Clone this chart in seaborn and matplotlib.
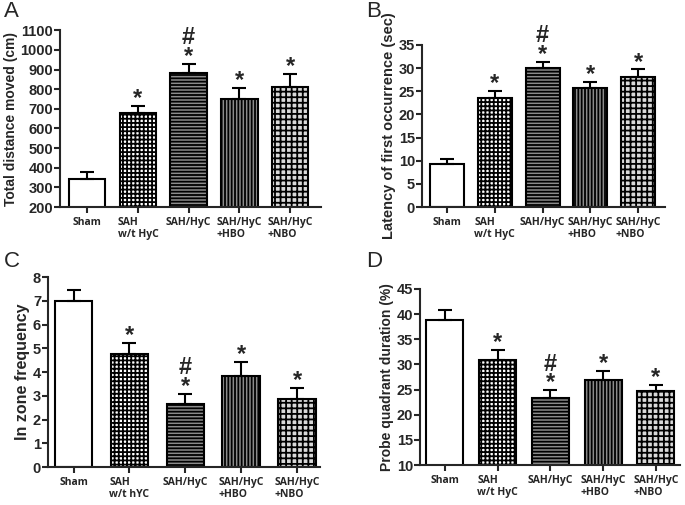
#!/usr/bin/env python3

import matplotlib
matplotlib.use("Agg")
import matplotlib.pyplot as plt
import pandas as pd
import seaborn as sns

# -----------------------------------------------------------------
# Data (mean and upper SEM end)
# -----------------------------------------------------------------
groups = ["Sham", "SAH\nw/t HyC", "SAH/HyC", "SAH/HyC\n+HBO", "SAH/HyC\n+NBO"]
groups_c = ["Sham", "SAH\nw/t hYC", "SAH/HyC", "SAH/HyC\n+HBO", "SAH/HyC\n+NBO"]

distance_mean = [345, 678, 885, 750, 812]
distance_top = [378, 715, 930, 805, 877]

latency_mean = [9.3, 23.6, 30.0, 25.6, 28.0]
latency_top = [10.3, 25.0, 31.4, 27.0, 29.7]

zone_mean = [7.0, 4.75, 2.68, 3.83, 2.85]
zone_top = [7.45, 5.25, 3.1, 4.45, 3.33]

probe_mean = [38.9, 30.8, 23.4, 26.9, 24.8]
probe_top = [40.8, 32.8, 24.9, 28.7, 25.9]

marks = ["", "*", "#\n*", "*", "*"]

hatches = ["", "++++", "-----", "|||||", "+++"]
faces = ["white", "white", "#8c8c8c", "#8c8c8c", "#d9d9d9"]

sns.set_style("ticks")
plt.rcParams["font.family"] = ["Liberation Sans", "DejaVu Sans"]
plt.rcParams["hatch.linewidth"] = 1.3

fig = plt.figure(figsize=(6.85, 5.05), dpi=100)


def panel(rect, letter, letter_xy, labels, means, tops, ylabel, ylim, yticks,
          xlim, width, ylabel_size=10):
    ax = fig.add_axes(rect)
    df = pd.DataFrame({"group": labels, "value": means})
    sns.barplot(data=df, x="group", y="value", ax=ax, errorbar=None,
                width=width, edgecolor="black", linewidth=1.5)
    for patch, h, fc in zip(ax.patches, hatches, faces):
        patch.set_facecolor(fc)
        patch.set_hatch(h)
    err = [t - m for t, m in zip(tops, means)]
    ax.errorbar(range(len(means)), means, yerr=[[0] * len(means), err],
                fmt="none", ecolor="black", elinewidth=1.5, capsize=5,
                capthick=1.5)
    for i, (t, m) in enumerate(zip(tops, marks)):
        if m:
            ax.annotate(m, (i, t), xytext=(0, -3), textcoords="offset points",
                        ha="center", va="bottom", fontsize=17,
                        linespacing=0.75, fontweight="bold")
    ax.set_ylim(*ylim)
    ax.set_yticks(yticks)
    ax.set_xlim(*xlim)
    ax.set_xlabel("")
    ax.set_ylabel(ylabel, fontsize=ylabel_size, fontweight="bold", labelpad=2)
    ax.tick_params(axis="y", labelsize=10.5, width=1.5, length=4, pad=1)
    ax.tick_params(axis="x", labelsize=7.5, width=1.5, length=4, pad=3)
    for lab in ax.get_yticklabels():
        lab.set_fontweight("bold")
    for lab in ax.get_xticklabels():
        lab.set_fontweight("bold")
        lab.set_family("Open Sans")
        lab.set_multialignment("left")
    for s in ["left", "bottom"]:
        ax.spines[s].set_linewidth(1.5)
    sns.despine(ax=ax)
    fig.text(letter_xy[0], letter_xy[1], letter, fontsize=16,
             va="top", ha="left")
    return ax


# -----------------------------------------------------------------
# A) Total distance moved
# -----------------------------------------------------------------
panel([0.088, 0.590, 0.380, 0.350], "A", (0.006, 0.998), groups,
      distance_mean, distance_top,
      "Total distance moved (cm)", (200, 1100), range(200, 1101, 100),
      (-0.53, 4.6), 0.72)

# -----------------------------------------------------------------
# B) Latency of first occurrence
# -----------------------------------------------------------------
panel([0.616, 0.590, 0.355, 0.321], "B", (0.535, 0.998), groups,
      latency_mean, latency_top,
      "Latency of first occurrence (sec)", (0, 35), range(0, 36, 5),
      (-0.52, 4.56), 0.71, ylabel_size=10.5)

# -----------------------------------------------------------------
# C) In zone frequency
# -----------------------------------------------------------------
panel([0.070, 0.075, 0.397, 0.376], "C", (0.006, 0.503), groups_c,
      zone_mean, zone_top,
      "In zone frequency", (0, 8), range(0, 9), (-0.46, 4.41), 0.67,
      ylabel_size=11.5)

# -----------------------------------------------------------------
# D) Probe quadrant duration
# -----------------------------------------------------------------
panel([0.613, 0.079, 0.380, 0.349], "D", (0.535, 0.503), groups,
      probe_mean, probe_top,
      "Probe quadrant duration (%)", (10, 45), range(10, 46, 5),
      (-0.47, 4.46), 0.7)

fig.savefig("out.png", dpi=100)
